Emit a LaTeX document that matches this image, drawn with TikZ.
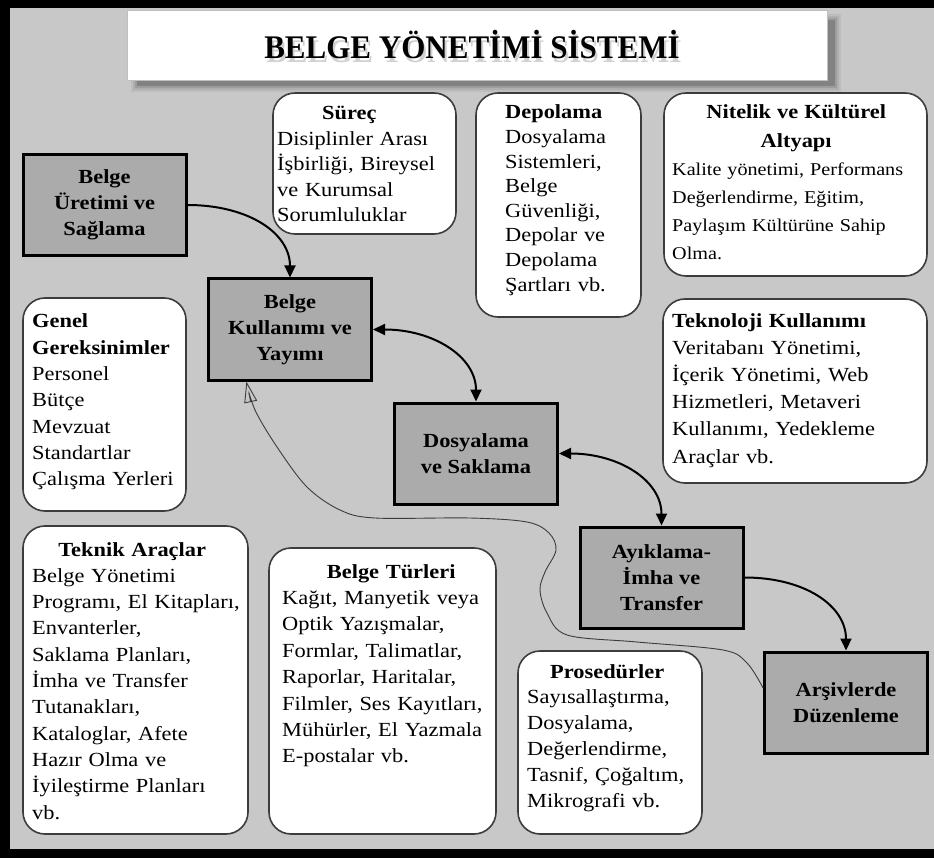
\documentclass[tikz,border=0pt]{standalone}
\usepackage{fontspec}
\setmainfont{Liberation Serif}[FakeStretch=1.12]
\newfontfamily\headfont{Liberation Serif}[FakeStretch=0.94]
\usetikzlibrary{arrows.meta}
\definecolor{canvasgray}{HTML}{C8C8C8}
\definecolor{stagegray}{HTML}{ABABAB}
\definecolor{framegray}{HTML}{3C3C3C}
\tikzset{stagehead/.tip={Triangle[length=12pt,width=11pt]}}
\begin{document}
\begin{tikzpicture}[x=1pt,y=-1pt,
  stage/.style={draw=black, line width=3pt, fill=stagegray, minimum width=163pt,
    minimum height=101pt, inner sep=0pt, align=center,
    font=\fontsize{20}{26}\selectfont\bfseries},
  infobox/.style={draw=framegray, line width=1.6pt, fill=white,
    rounded corners=22pt, inner sep=0pt},
  infotext/.style={anchor=base west, inner sep=0pt, align=left, text width=300pt},
  link/.style={line width=2pt, draw=black}
]
\useasboundingbox (0,0) rectangle (934,858);
% canvas and frame
\fill[canvasgray] (0,0) rectangle (934,858);
\fill[black] (0,0) rectangle (934,8);
\fill[black] (0,0) rectangle (10,858);
\fill[black] (0,849) rectangle (934,858);

% title banner with soft shadow
\foreach \e/\o in {0/0.16,2/0.1,4/0.07,6/0.05}
  \fill[black, opacity=\o] (137-\e,20-\e) rectangle (835+\e,86+\e);
\node[fill=white, draw=gray!50, line width=0.6pt, minimum width=700pt,
  minimum height=70pt, inner sep=0pt] (titlebox) at (477,45) {};
\node[font=\headfont\fontsize{33}{36}\selectfont\bfseries, text=black,
  text opacity=0.18] (titleshade) at (474,49) {BELGE YÖNETİMİ SİSTEMİ};
\node[font=\headfont\fontsize{33}{36}\selectfont\bfseries] (title) at (472,45)
  {BELGE YÖNETİMİ SİSTEMİ};

% process stages
\node[stage] (uretim) at (104.5,205) {Belge\\Üretimi ve\\Sağlama};
\node[stage] (kullanim) at (290,329.5) {Belge\\Kullanımı ve\\Yayımı};
\node[stage] (dosyalama) at (476,453.5) {Dosyalama\\ve Saklama};
\node[stage] (ayiklama) at (661.5,577.5) {Ayıklama-\\İmha ve\\Transfer};
\node[stage] (arsiv) at (846,702.5) {Arşivlerde\\Düzenleme};

% information boxes
\node[infobox, minimum width=183pt, minimum height=141pt] (surec) at (364.5,163.5) {};
\node[infotext, font=\fontsize{20}{25.5}\selectfont] (surec-t) at (277,120)
  {\hspace*{45pt}\textbf{Süreç}\\Disiplinler Arası\\İşbirliği, Bireysel\\ve Kurumsal\\Sorumluluklar};

\node[infobox, minimum width=165pt, minimum height=224pt] (depolama) at (558.5,205) {};
\node[infotext, font=\fontsize{20}{24.6}\selectfont] (depolama-t) at (505,119)
  {\textbf{Depolama}\\Dosyalama\\Sistemleri,\\Belge\\Güvenliği,\\Depolar ve\\Depolama\\Şartları vb.};

\node[infobox, minimum width=263pt, minimum height=183pt] (nitelik) at (795.5,184.5) {};
\node[infotext, font=\fontsize{18}{28}\selectfont] (nitelik-t) at (672,119)
  {{\fontsize{20}{29}\selectfont\bfseries\makebox[248pt][c]{Nitelik ve Kültürel}\\\makebox[248pt][c]{Altyapı}\par}%
   Kalite yönetimi, Performans\\Değerlendirme, Eğitim,\\Paylaşım Kültürüne Sahip\\Olma.};

\node[infobox, minimum width=264pt, minimum height=184pt] (teknoloji) at (795,391) {};
\node[infotext, font=\fontsize{20}{27}\selectfont] (teknoloji-t) at (672,328)
  {\textbf{Teknoloji Kullanımı}\\Veritabanı Yönetimi,\\İçerik Yönetimi, Web\\Hizmetleri, Metaveri\\Kullanımı, Yedekleme\\Araçlar vb.};

\node[infobox, minimum width=163pt, minimum height=213pt] (genel) at (104.5,404.5) {};
\node[infotext, font=\fontsize{20}{26.3}\selectfont] (genel-t) at (32,328)
  {\textbf{Genel}\\\textbf{Gereksinimler}\\Personel\\Bütçe\\Mevzuat\\Standartlar\\Çalışma Yerleri};

\node[infobox, minimum width=225pt, minimum height=308pt] (teknik) at (135.5,680) {};
\node[infotext, font=\fontsize{20}{26.3}\selectfont] (teknik-t) at (32,556)
  {\makebox[200pt][c]{\bfseries Teknik Araçlar}\\Belge Yönetimi\\Programı, El Kitapları,\\Envanterler,\\Saklama Planları,\\İmha ve Transfer\\Tutanakları,\\Kataloglar, Afete\\Hazır Olma ve\\İyileştirme Planları\\vb.};

\node[infobox, minimum width=227pt, minimum height=286pt] (turleri) at (382.5,691) {};
\node[infotext, font=\fontsize{20}{26.4}\selectfont] (turleri-t) at (282,578)
  {\makebox[218pt][c]{\bfseries Belge Türleri}\\Kağıt, Manyetik veya\\Optik Yazışmalar,\\Formlar, Talimatlar,\\Raporlar, Haritalar,\\Filmler, Ses Kayıtları,\\Mühürler, El Yazmala\\E-postalar vb.};

\node[infobox, minimum width=184pt, minimum height=183pt] (prosedur) at (610,742.5) {};
\node[infotext, font=\fontsize{20}{25.8}\selectfont] (prosedur-t) at (527,678)
  {\makebox[160pt][c]{\bfseries Prosedürler}\\Sayısallaştırma,\\Dosyalama,\\Değerlendirme,\\Tasnif, Çoğaltım,\\Mikrografi vb.};

% flow between stages
\draw[link, -stagehead] (uretim.east) .. controls +(60,0) and +(0,-45) .. (kullanim.north);
\draw[link, stagehead-stagehead] (kullanim.east) .. controls +(60,0) and +(0,-45) .. (dosyalama.north);
\draw[link, stagehead-stagehead] (dosyalama.east) .. controls +(60,0) and +(0,-45) .. (ayiklama.north);
\draw[link, -stagehead] (ayiklama.east) .. controls +(60,0) and +(0,-45) .. (arsiv.north);

% feedback from the archive back to use
\draw[draw=framegray, line width=0.9pt, -{Triangle[open,length=21pt,width=13pt]}]
  plot[smooth, tension=0.55] coordinates {(arsiv.170) (747,663) (723,650) (637,642)
  (567,635) (547,613) (540,590) (545,572) (556,550) (549,533) (527,522) (470,518)
  (375,518) (340,510) (307,487) (277,447) (255,410) (kullanim.230)};
\end{tikzpicture}
\end{document}
